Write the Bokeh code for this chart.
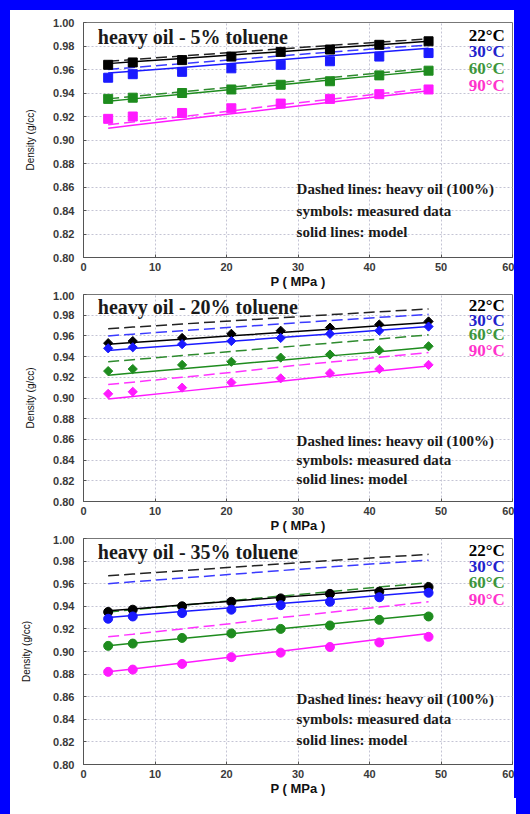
import numpy as np
from bokeh.plotting import figure
from bokeh.models import ColumnDataSource, FixedTicker, NumeralTickFormatter, Range1d
from bokeh.layouts import column
from bokeh.embed import file_html
from bokeh.resources import INLINE
from bokeh.core.properties import value

# ---------------- data ----------------
pressure = [3.45, 6.89, 13.79, 20.68, 27.58, 34.47, 41.37, 48.26]   # MPa
temp_labels = ["22°C", "30°C", "60°C", "90°C"]
temp_label_y = [0.989, 0.975, 0.961, 0.946]
panel_titles = ["heavy oil - 5% toluene", "heavy oil - 20% toluene", "heavy oil - 35% toluene"]
notes = ["Dashed lines: heavy oil (100%)", "symbols: measured data", "solid lines: model"]
note_y = [0.858, 0.840, 0.822]
x_ticks = [0, 10, 20, 30, 40, 50, 60]
y_ticks = [0.80, 0.82, 0.84, 0.86, 0.88, 0.90, 0.92, 0.94, 0.96, 0.98, 1.00]

# heavy oil (100%) -- dashed lines (same in all panels)
ho_22 = [0.9670, 0.9685, 0.9715, 0.9745, 0.9775, 0.9805, 0.9833, 0.9860]
ho_30 = [0.9600, 0.9617, 0.9650, 0.9683, 0.9716, 0.9748, 0.9779, 0.9808]
ho_60 = [0.9350, 0.9370, 0.9410, 0.9450, 0.9490, 0.9530, 0.9570, 0.9610]
ho_90 = [0.9130, 0.9153, 0.9200, 0.9247, 0.9300, 0.9347, 0.9393, 0.9440]

# 5% toluene
t5_meas_22 = [0.964, 0.966, 0.968, 0.971, 0.975, 0.977, 0.981, 0.984]
t5_meas_30 = [0.953, 0.956, 0.958, 0.961, 0.964, 0.967, 0.971, 0.974]
t5_meas_60 = [0.935, 0.936, 0.940, 0.943, 0.947, 0.950, 0.955, 0.959]
t5_meas_90 = [0.918, 0.920, 0.923, 0.927, 0.931, 0.935, 0.939, 0.943]
t5_model_22 = [0.9650, 0.9665, 0.9694, 0.9723, 0.9752, 0.9782, 0.9811, 0.9840]
t5_model_30 = [0.9570, 0.9586, 0.9618, 0.9651, 0.9683, 0.9716, 0.9748, 0.9780]
t5_model_60 = [0.9330, 0.9350, 0.9390, 0.9430, 0.9470, 0.9510, 0.9550, 0.9590]
t5_model_90 = [0.9100, 0.9125, 0.9174, 0.9223, 0.9272, 0.9322, 0.9371, 0.9420]

# 20% toluene
t20_meas_22 = [0.953, 0.955, 0.958, 0.962, 0.965, 0.968, 0.971, 0.974]
t20_meas_30 = [0.948, 0.949, 0.952, 0.955, 0.958, 0.962, 0.965, 0.969]
t20_meas_60 = [0.926, 0.928, 0.932, 0.935, 0.939, 0.942, 0.946, 0.950]
t20_meas_90 = [0.904, 0.906, 0.910, 0.915, 0.919, 0.924, 0.928, 0.932]
t20_model_22 = [0.9520, 0.9536, 0.9568, 0.9601, 0.9633, 0.9665, 0.9698, 0.9730]
t20_model_30 = [0.9460, 0.9478, 0.9513, 0.9548, 0.9584, 0.9619, 0.9655, 0.9690]
t20_model_60 = [0.9220, 0.9241, 0.9282, 0.9324, 0.9365, 0.9407, 0.9448, 0.9490]
t20_model_90 = [0.8990, 0.9015, 0.9064, 0.9113, 0.9162, 0.9212, 0.9261, 0.9310]

# 35% toluene
t35_meas_22 = [0.935, 0.937, 0.940, 0.944, 0.947, 0.951, 0.953, 0.957]
t35_meas_30 = [0.929, 0.931, 0.934, 0.937, 0.941, 0.944, 0.948, 0.952]
t35_meas_60 = [0.905, 0.907, 0.912, 0.916, 0.920, 0.923, 0.928, 0.931]
t35_meas_90 = [0.882, 0.884, 0.889, 0.895, 0.899, 0.904, 0.908, 0.913]
t35_model_22 = [0.9360, 0.9377, 0.9411, 0.9445, 0.9479, 0.9512, 0.9546, 0.9580]
t35_model_30 = [0.9300, 0.9318, 0.9353, 0.9388, 0.9424, 0.9459, 0.9495, 0.9530]
t35_model_60 = [0.9050, 0.9072, 0.9115, 0.9158, 0.9201, 0.9244, 0.9287, 0.9330]
t35_model_90 = [0.8820, 0.8846, 0.8899, 0.8951, 0.9003, 0.9056, 0.9108, 0.9160]

# ---------------- styles ----------------
line_colors = ["#000000", "#1a1aff", "#1e8c1e", "#ff1aff"]
dash_colors = ["#222222", "#3a3aff", "#2e8b2e", "#ff33ff"]
label_colors = ["#000000", "#2222cc", "#3c963c", "#ff33cc"]
SERIF = value("Liberation Serif")
SANS = "Liberation Sans"


def make_panel(title, meas, model, marker, msize, angle, height, btop, bbottom, bleft, bright,
               ylab_standoff):
    p = figure(width=514, height=height, x_range=Range1d(0, 60), y_range=Range1d(0.80, 1.00),
               output_backend="svg", toolbar_location=None,
               min_border_top=btop, min_border_bottom=bbottom,
               min_border_left=bleft, min_border_right=bright,
               border_fill_color=None, background_fill_color="white",
               outline_line_color="#777777", outline_line_width=1)

    # grid
    p.xgrid.ticker = FixedTicker(ticks=x_ticks)
    p.ygrid.ticker = FixedTicker(ticks=y_ticks)
    for g in (p.xgrid, p.ygrid):
        g.grid_line_color = "#c4c4d4"
        g.grid_line_dash = "2 2"
        g.grid_line_width = 1

    # axes
    p.xaxis.ticker = FixedTicker(ticks=x_ticks)
    p.yaxis.ticker = FixedTicker(ticks=y_ticks)
    p.yaxis.formatter = NumeralTickFormatter(format="0.00")
    for ax in (p.xaxis, p.yaxis):
        ax.axis_line_color = "#555555"
        ax.major_tick_in = 3
        ax.major_tick_out = 0
        ax.minor_tick_line_color = None
        ax.major_tick_line_color = "#555555"
        ax.major_label_text_font = SANS
        ax.major_label_text_font_style = "bold"
        ax.major_label_text_font_size = "11px"
        ax.major_label_text_color = "#3a3a3a"
    p.xaxis.major_label_standoff = 5
    p.yaxis.major_label_standoff = 9
    p.xaxis.axis_label = "P ( MPa )"
    p.xaxis.axis_label_text_font = SANS
    p.xaxis.axis_label_text_font_style = "bold"
    p.xaxis.axis_label_text_font_size = "13px"
    p.xaxis.axis_label_text_color = "#111111"
    p.xaxis.axis_label_standoff = 0
    p.yaxis.axis_label = "Density (g/cc)"
    p.yaxis.axis_label_text_font = SANS
    p.yaxis.axis_label_text_font_style = "normal"
    p.yaxis.axis_label_text_font_size = "10px"
    p.yaxis.axis_label_text_color = "#111111"
    p.yaxis.axis_label_standoff = ylab_standoff

    dashed = [ho_22, ho_30, ho_60, ho_90]
    for ys, c in zip(dashed, dash_colors):
        p.line(pressure, ys, line_color=c, line_width=1.5, line_dash="11 5")
    for ys, c in zip(model, line_colors):
        p.line(pressure, ys, line_color=c, line_width=1.5)
    for ys, c in zip(meas, line_colors):
        p.scatter(pressure, ys, marker=marker, size=msize, angle=angle,
                  fill_color=c, line_color=c)

    # title text
    p.text(x=[2.0], y=[0.988], text=[title], text_font=SERIF, text_font_style="bold",
           text_font_size="20px", text_baseline="middle", text_align="left", text_color="#1a1a1a")

    # temperature labels
    src = ColumnDataSource(dict(x=[56.4] * 4, y=temp_label_y, t=temp_labels, c=label_colors))
    p.text(x="x", y="y", text="t", text_color="c", source=src, text_font=SERIF,
           text_font_style="bold", text_font_size="17px", text_baseline="middle", text_align="center")

    # notes
    p.text(x=[29.8] * 3, y=note_y, text=notes, text_font=SERIF, text_font_style="bold",
           text_font_size="15px", text_baseline="middle", text_align="left", text_color="#1a1a1a")
    return p


p1 = make_panel(panel_titles[0],
                [t5_meas_22, t5_meas_30, t5_meas_60, t5_meas_90],
                [t5_model_22, t5_model_30, t5_model_60, t5_model_90],
                "square", 9, 0.0, 291, 22, 34, 77, 2, 14)
p2 = make_panel(panel_titles[1],
                [t20_meas_22, t20_meas_30, t20_meas_60, t20_meas_90],
                [t20_model_22, t20_model_30, t20_model_60, t20_model_90],
                "square", 6.5, np.pi / 4, 244, 3, 33, 77, 1, 14)
p3 = make_panel(panel_titles[2],
                [t35_meas_22, t35_meas_30, t35_meas_60, t35_meas_90],
                [t35_model_22, t35_model_30, t35_model_60, t35_model_90],
                "circle", 9, 0.0, 263, 3, 32, 83, 1, 18)

frame_css = ("inset 10px 10px 0px 0px #0000ff, "
             "16px 0px 0px 0px #0000ff, "
             "-252px 268px 0px -252px #0000ff, "
             "266px 266px 0px -250px #0000ff")
layout = column(p1, p2, p3, spacing=0,
                styles={"background-color": "#ffffff", "box-shadow": frame_css})

open("out.html", "w").write(file_html(layout, INLINE))
